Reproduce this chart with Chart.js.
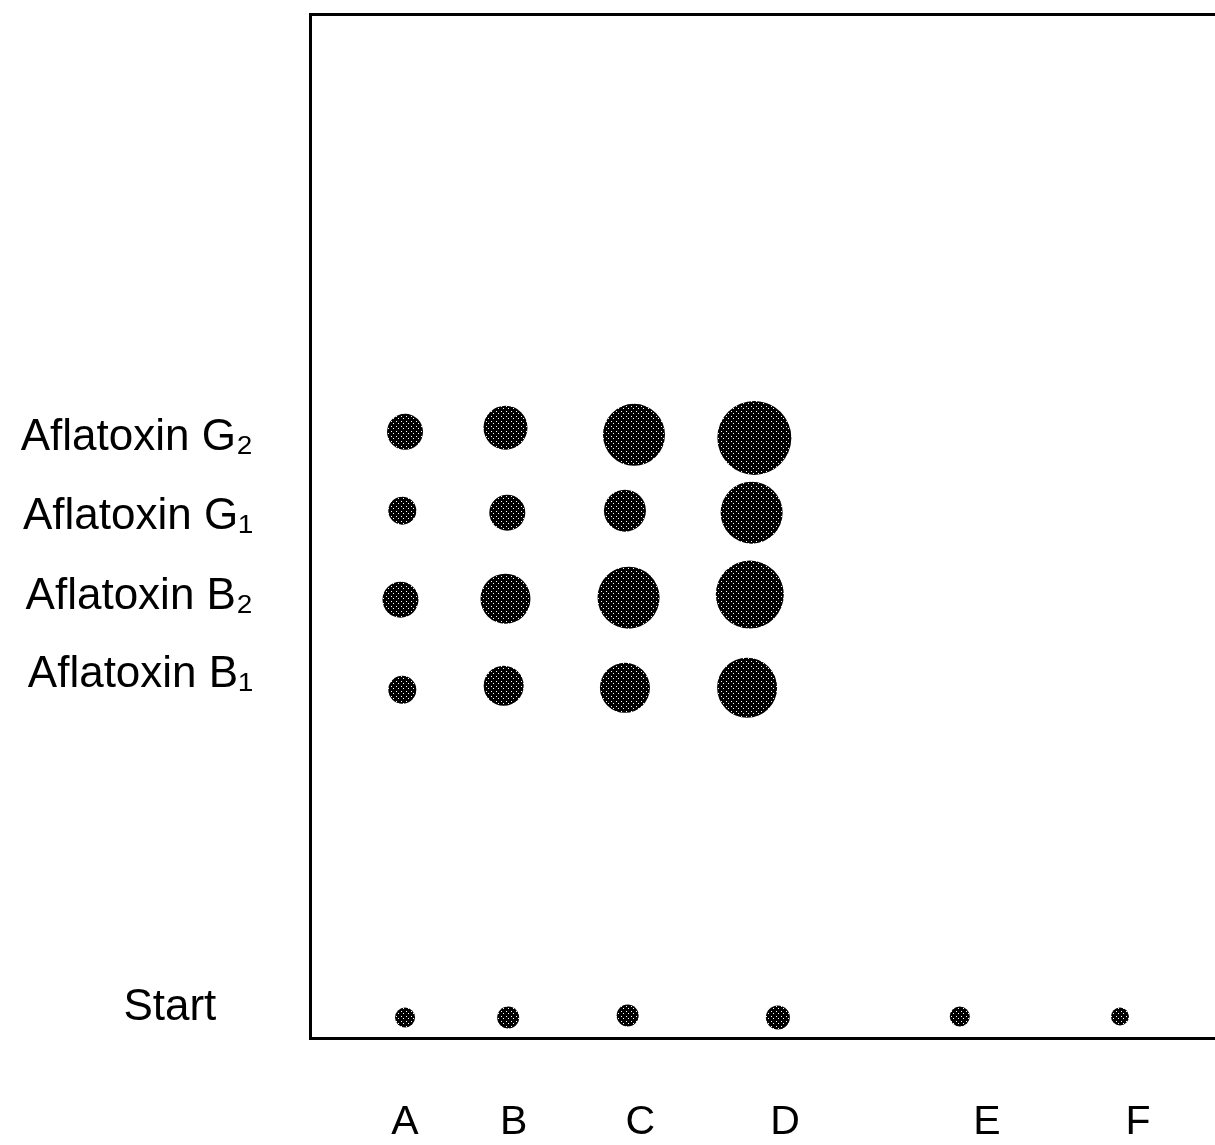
<!DOCTYPE html>
<html>
<head>
<meta charset="utf-8">
<script src="https://cdn.jsdelivr.net/npm/chart.js@4"></script>
<style>
body{margin:0;background:#fff;}
canvas{display:block;}
</style>
</head>
<body>
<canvas id="plate" width="1215" height="1145"></canvas>
<script>
// lanes (x position on plate, % of visible width)
var laneNames=['A','B','C','D','E','F'];
var lanePos=[10.5,22.5,36.5,52.5,74.8,91.5];
// row labels (Rf position, % of plate height)
var rowNames=['Aflatoxin G\u2082','Aflatoxin G\u2081','Aflatoxin B\u2082','Aflatoxin B\u2081','Start   '];
var rowPos=[58.6,50.9,43.1,35.5,2.9];

// spots: x, y and spot radius for each row
var g2X=[10.5,21.6,35.8,49.1], g2Y=[59.2,59.6,58.9,58.6], g2R=[18,22,31,37];
var g1X=[10.2,21.8,34.8,48.8], g1Y=[51.5,51.3,51.5,51.3], g1R=[14,18,21,31];
var b2X=[10.0,21.6,35.2,48.6], b2Y=[42.8,42.9,43.0,43.3], b2R=[18,25,31,34];
var b1X=[10.2,21.4,34.8,48.3], b1Y=[34.0,34.4,34.2,34.2], b1R=[14,20,25,30];
var stX=[10.5,21.9,35.1,51.7,71.8,89.5], stY=[2.0,2.0,2.2,2.0,2.1,2.1], stR=[10,11,11,12,10,9];

// speckled fill like the scanned spots
function speckle(){
    var c=document.createElement('canvas');c.width=5;c.height=5;
    var t=c.getContext('2d');
    t.fillStyle='#000';t.fillRect(0,0,5,5);
    t.fillStyle='#fff';t.fillRect(1,1,1,1);t.fillRect(3,3,1,1);
    return t.createPattern(c,'repeat');
}
var ctx=document.getElementById('plate').getContext('2d');
var fill=speckle();

function spots(label,xs,ys,rs){
    var d=[];
    for(var i=0;i<xs.length;i++) d.push({x:xs[i],y:ys[i],r:rs[i]});
    return {label:label,data:d,backgroundColor:fill,borderWidth:0};
}
function noPad(s){s.paddingTop=0;s.paddingBottom=0;s.paddingLeft=0;s.paddingRight=0;}

var chart=new Chart(ctx,{
    type:'bubble',
    data:{
        datasets:[
            spots('G2',g2X,g2Y,g2R),
            spots('G1',g1X,g1Y,g1R),
            spots('B2',b2X,b2Y,b2R),
            spots('B1',b1X,b1Y,b1R),
            spots('Start',stX,stY,stR)
        ]
    },
    options:{
        responsive:false,
        animation:false,
        layout:{autoPadding:false,padding:{top:14,left:0,right:0,bottom:0}},
        plugins:{legend:{display:false},tooltip:{enabled:false}},
        scales:{
            x:{
                type:'linear',min:0,max:100,
                grid:{display:false,drawTicks:false},
                border:{display:true,color:'#000',width:3},
                afterBuildTicks:function(s){s.ticks=lanePos.map(function(v){return {value:v};});},
                afterFit:function(s){s.height=107;noPad(s);},
                ticks:{
                    padding:60,color:'#000',maxRotation:0,autoSkip:false,
                    font:{family:'"Liberation Sans", Arial, sans-serif',size:41},
                    callback:function(v){var i=lanePos.indexOf(v);return i>=0?laneNames[i]:'';}
                }
            },
            xTop:{
                type:'linear',position:'top',min:0,max:100,
                grid:{display:false,drawTicks:false},
                border:{display:true,color:'#000',width:3},
                ticks:{display:false},
                afterFit:function(s){s.height=0;noPad(s);}
            },
            y:{
                type:'linear',min:0,max:100,
                grid:{display:false,drawTicks:false},
                border:{display:true,color:'#000',width:3},
                afterBuildTicks:function(s){s.ticks=rowPos.map(function(v){return {value:v};});},
                afterFit:function(s){s.width=310;noPad(s);},
                ticks:{
                    padding:57,color:'#000',autoSkip:false,
                    font:{family:'"Liberation Sans", Arial, sans-serif',size:44},
                    callback:function(v){var i=rowPos.indexOf(v);return i>=0?rowNames[i]:'';}
                }
            }
        }
    }
});
</script>
</body>
</html>
